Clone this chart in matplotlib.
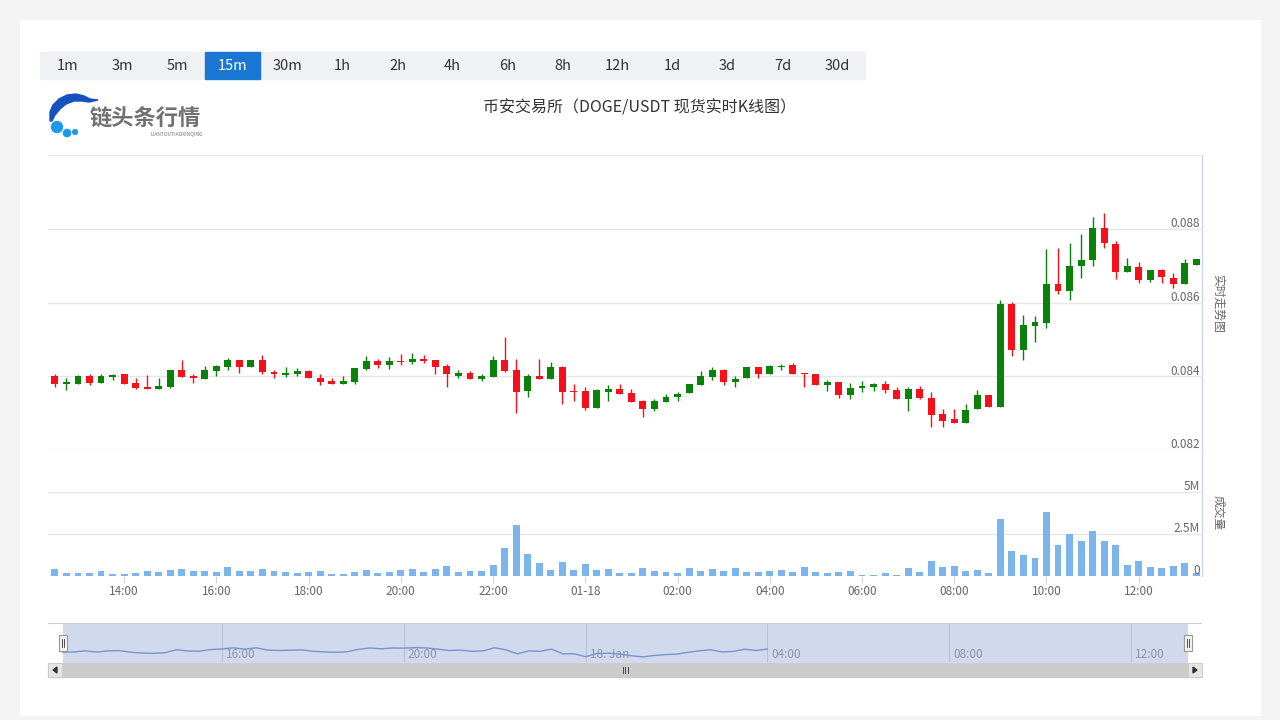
import matplotlib
matplotlib.use("Agg")
import matplotlib.pyplot as plt
from matplotlib.patches import Rectangle, Polygon, Circle
import numpy as np
import pandas as pd

plt.rcParams['font.family'] = ['Noto Sans CJK SC', 'DejaVu Sans']

W, H = 1280, 720

# 15m candles, DOGE/USDT
times = pd.date_range('2023-01-17 12:30', periods=100, freq='15min')

opens = [0.08400, 0.08380, 0.08380, 0.08400, 0.08382, 0.08397, 0.08405, 0.08381, 0.08370, 0.08365,
         0.08371, 0.08416, 0.08402, 0.08392, 0.08414, 0.08425, 0.08444, 0.08425, 0.08444, 0.08412,
         0.08404, 0.08407, 0.08414, 0.08394, 0.08387, 0.08380, 0.08384, 0.08420, 0.08441, 0.08430,
         0.08442, 0.08439, 0.08447, 0.08444, 0.08427, 0.08402, 0.08409, 0.08392, 0.08398, 0.08445,
         0.08418, 0.08360, 0.08400, 0.08393, 0.08425, 0.08360, 0.08359, 0.08315, 0.08356, 0.08366,
         0.08354, 0.08332, 0.08310, 0.08330, 0.08343, 0.08355, 0.08376, 0.08398, 0.08416, 0.08384,
         0.08394, 0.08424, 0.08405, 0.08424, 0.08430, 0.08409, 0.08407, 0.08377, 0.08384, 0.08348,
         0.08368, 0.08371, 0.08380, 0.08364, 0.08337, 0.08366, 0.08342, 0.08298, 0.08284, 0.08274,
         0.08310, 0.08348, 0.08316, 0.08597, 0.08471, 0.08537, 0.08545, 0.08651, 0.08630, 0.08699,
         0.08714, 0.08803, 0.08760, 0.08682, 0.08697, 0.08660, 0.08687, 0.08667, 0.08650, 0.08701]
highs = [0.08405, 0.08394, 0.08403, 0.08407, 0.08407, 0.08407, 0.08405, 0.08396, 0.08403, 0.08396,
         0.08418, 0.08444, 0.08407, 0.08427, 0.08430, 0.08450, 0.08445, 0.08444, 0.08458, 0.08418,
         0.08425, 0.08423, 0.08418, 0.08405, 0.08396, 0.08400, 0.08422, 0.08455, 0.08446, 0.08451,
         0.08460, 0.08462, 0.08457, 0.08444, 0.08433, 0.08416, 0.08414, 0.08405, 0.08455, 0.08506,
         0.08446, 0.08407, 0.08448, 0.08440, 0.08427, 0.08378, 0.08371, 0.08366, 0.08375, 0.08380,
         0.08366, 0.08336, 0.08339, 0.08352, 0.08357, 0.08380, 0.08414, 0.08424, 0.08421, 0.08400,
         0.08424, 0.08425, 0.08430, 0.08433, 0.08436, 0.08409, 0.08407, 0.08391, 0.08384, 0.08382,
         0.08387, 0.08382, 0.08386, 0.08371, 0.08371, 0.08373, 0.08356, 0.08312, 0.08311, 0.08326,
         0.08364, 0.08348, 0.08606, 0.08602, 0.08567, 0.08564, 0.08746, 0.08749, 0.08761, 0.08785,
         0.08833, 0.08844, 0.08767, 0.08721, 0.08710, 0.08689, 0.08692, 0.08680, 0.08717, 0.08719]
lows = [0.08371, 0.08362, 0.08378, 0.08375, 0.08382, 0.08391, 0.08380, 0.08365, 0.08365, 0.08365,
        0.08369, 0.08398, 0.08382, 0.08392, 0.08400, 0.08416, 0.08409, 0.08425, 0.08405, 0.08396,
        0.08398, 0.08402, 0.08394, 0.08377, 0.08380, 0.08380, 0.08380, 0.08418, 0.08423, 0.08421,
        0.08430, 0.08432, 0.08436, 0.08407, 0.08371, 0.08396, 0.08393, 0.08387, 0.08398, 0.08412,
        0.08300, 0.08345, 0.08393, 0.08393, 0.08325, 0.08334, 0.08309, 0.08315, 0.08334, 0.08353,
        0.08330, 0.08289, 0.08307, 0.08330, 0.08334, 0.08355, 0.08376, 0.08391, 0.08377, 0.08371,
        0.08394, 0.08396, 0.08405, 0.08418, 0.08405, 0.08371, 0.08377, 0.08360, 0.08341, 0.08339,
        0.08357, 0.08360, 0.08354, 0.08337, 0.08307, 0.08337, 0.08263, 0.08263, 0.08274, 0.08273,
        0.08310, 0.08316, 0.08316, 0.08455, 0.08444, 0.08494, 0.08532, 0.08624, 0.08606, 0.08666,
        0.08699, 0.08747, 0.08665, 0.08682, 0.08653, 0.08655, 0.08653, 0.08639, 0.08650, 0.08701]
closes = [0.08380, 0.08384, 0.08400, 0.08382, 0.08400, 0.08403, 0.08380, 0.08368, 0.08365, 0.08373,
          0.08416, 0.08398, 0.08395, 0.08418, 0.08427, 0.08444, 0.08425, 0.08444, 0.08412, 0.08405,
          0.08409, 0.08414, 0.08394, 0.08384, 0.08380, 0.08386, 0.08422, 0.08441, 0.08430, 0.08441,
          0.08439, 0.08446, 0.08442, 0.08425, 0.08405, 0.08410, 0.08393, 0.08400, 0.08445, 0.08414,
          0.08357, 0.08400, 0.08393, 0.08424, 0.08357, 0.08357, 0.08315, 0.08362, 0.08366, 0.08353,
          0.08330, 0.08312, 0.08332, 0.08345, 0.08353, 0.08378, 0.08400, 0.08416, 0.08384, 0.08392,
          0.08424, 0.08405, 0.08427, 0.08427, 0.08407, 0.08405, 0.08377, 0.08384, 0.08350, 0.08369,
          0.08374, 0.08380, 0.08364, 0.08337, 0.08366, 0.08340, 0.08296, 0.08279, 0.08274, 0.08308,
          0.08348, 0.08316, 0.08597, 0.08471, 0.08539, 0.08547, 0.08651, 0.08630, 0.08700, 0.08714,
          0.08803, 0.08762, 0.08682, 0.08700, 0.08660, 0.08687, 0.08668, 0.08650, 0.08706, 0.08719]
# volume in millions
volumes = [0.42, 0.20, 0.18, 0.18, 0.30, 0.12, 0.14, 0.18, 0.30, 0.26,
           0.38, 0.44, 0.30, 0.30, 0.26, 0.56, 0.30, 0.30, 0.40, 0.30,
           0.22, 0.18, 0.26, 0.30, 0.14, 0.10, 0.26, 0.38, 0.20, 0.26,
           0.38, 0.44, 0.26, 0.44, 0.58, 0.26, 0.32, 0.32, 0.65, 1.69,
           3.04, 1.29, 0.77, 0.38, 0.81, 0.38, 0.73, 0.38, 0.40, 0.20,
           0.16, 0.48, 0.28, 0.24, 0.16, 0.48, 0.32, 0.40, 0.28, 0.48,
           0.24, 0.24, 0.28, 0.36, 0.24, 0.54, 0.24, 0.20, 0.24, 0.28,
           0.08, 0.08, 0.18, 0.08, 0.48, 0.24, 0.87, 0.54, 0.62, 0.28,
           0.36, 0.16, 3.39, 1.47, 1.23, 1.07, 3.81, 1.87, 2.50, 2.06,
           2.70, 2.10, 1.87, 0.67, 0.87, 0.54, 0.48, 0.58, 0.79, 0.20]

periods = ['1m', '3m', '5m', '15m', '30m', '1h', '2h', '4h', '6h', '8h', '12h', '1d', '3d', '7d', '30d']
selected = '15m'
price_ticks = [0.082, 0.084, 0.086, 0.088]
vol_ticks = [0, 2.5, 5]
vol_labels = ['0', '2.5M', '5M']
nav_labels = ['16:00', '20:00', '18. Jan', '04:00', '08:00', '12:00']
nav_line_len = 63  # navigator line stops at 04:00

UP = '#0a820a'
DOWN = '#f5101a'
GRID = '#e6e6e6'
AXIS = '#ccd6eb'
TXT = '#666666'


def box(x0, y0, x1, y1):
    return [x0 / W, 1 - y1 / H, (x1 - x0) / W, (y1 - y0) / H]


fig = plt.figure(figsize=(W / 100, H / 100), dpi=100)
fig.patch.set_facecolor('#f3f3f3')

# pixel-space background layer
bg = fig.add_axes([0, 0, 1, 1], zorder=0)
bg.set_xlim(0, W)
bg.set_ylim(H, 0)
bg.axis('off')
bg.add_patch(Rectangle((20, 20), 1240, 695, color='white'))

# period buttons
bg.add_patch(Rectangle((40, 52), 825, 27, color='#f0f1f3'))
for k, p in enumerate(periods):
    cx = 40 + 55 * k + 27.5
    if p == selected:
        bg.add_patch(Rectangle((40 + 55 * k, 52), 55, 27, color='#1976d2'))
        col = 'white'
    else:
        col = '#333333'
    bg.text(cx, 66, p, ha='center', va='center', fontsize=10.5, color=col)

# logo
swoosh = [(50, 121), (50, 112), (53, 105), (59, 99), (67, 95), (76, 94), (84, 96),
          (90, 99), (98, 100), (89, 102), (82, 101), (74, 101), (66, 104),
          (60, 109), (55, 115), (52, 121)]
bg.add_patch(Polygon(swoosh, closed=True, color='#1552be'))
bg.add_patch(Circle((57, 127), 5.5, color='#1e98ea'))
bg.add_patch(Circle((67, 133), 3.6, color='#1e98ea'))
bg.add_patch(Circle((75, 132), 2.4, color='#1e98ea'))
bg.text(90, 119, '链头条行情', ha='left', va='center', fontsize=16, color='#707070',
        fontweight='bold')
bg.text(203, 134, 'LIANTOUTIAOXINQING', ha='right', va='center', fontsize=3.6,
        color='#777777', style='italic')

fig.text(640 / W, 1 - 108 / H, '币安交易所（DOGE/USDT 现货实时K线图）', ha='center',
         va='center', fontsize=11.5, color='#333333')

n = len(closes)
x = np.arange(n)
xlim = (-0.6, 99.4)

# price panel
ax = fig.add_axes(box(48, 155, 1201, 450), zorder=1)
for s in ax.spines.values():
    s.set_visible(False)
ax.set_xlim(*xlim)
ax.set_ylim(0.082, 0.090)
ax.set_xticks([])
ax.set_yticks(price_ticks + [0.090])
ax.tick_params(axis='y', left=False, labelleft=False)
ax.yaxis.grid(True, color=GRID, lw=1)
ax.set_axisbelow(True)
o = np.array(opens)
c = np.array(closes)
colors = [UP if cc >= oo else DOWN for oo, cc in zip(o, c)]
ax.vlines(x, lows, highs, colors=colors, lw=1, zorder=2)
body = np.maximum(np.abs(c - o), 0.00003)
ax.bar(x, body, bottom=np.minimum(o, c), width=0.6, color=colors, zorder=3)
for v in price_ticks:
    ax.annotate(f'{v:.3f}', xy=(1, v), xycoords=('axes fraction', 'data'), xytext=(-1, -1),
                textcoords='offset points', ha='right', va='bottom', fontsize=8.5, color=TXT)

# volume panel
av = fig.add_axes(box(48, 492, 1201, 576), zorder=1)
for s in av.spines.values():
    s.set_visible(False)
av.set_xlim(*xlim)
av.set_ylim(0, 5)
av.set_yticks(vol_ticks)
av.tick_params(axis='y', left=False, labelleft=False)
av.yaxis.grid(True, color=GRID, lw=1)
av.set_axisbelow(True)
av.bar(x, volumes, width=0.6, color='#7cb5ec', zorder=3)
for v, lab in zip(vol_ticks, vol_labels):
    av.annotate(lab, xy=(1, v), xycoords=('axes fraction', 'data'), xytext=(-1, -1),
                textcoords='offset points', ha='right', va='bottom', fontsize=8.5, color=TXT)
tick_idx = [i for i, t in enumerate(times) if t.minute == 0 and t.hour % 2 == 0]
tick_lab = [times[i].strftime('%m-%d') if times[i].hour == 0 else times[i].strftime('%H:%M')
            for i in tick_idx]
av.set_xticks(tick_idx)
av.set_xticklabels(tick_lab)
av.tick_params(axis='x', length=5, color=AXIS, pad=1.5, labelsize=8.5, labelcolor=TXT)

# right axis line and titles
bg.plot([1201.5, 1201.5], [155, 576], color=AXIS, lw=1)
bg.text(1218, 303, '实时走势图', rotation=270, ha='center', va='center', fontsize=8.5, color=TXT)
bg.text(1218, 513, '成交量', rotation=270, ha='center', va='center', fontsize=8.5, color=TXT)

# navigator
an = fig.add_axes(box(48, 623, 1201, 663), zorder=1)
for s in an.spines.values():
    s.set_visible(False)
an.spines['top'].set_visible(True)
an.spines['top'].set_color('#cccccc')
an.set_xlim(-1.3, 100.14)
an.set_ylim(min(closes) - 0.0005, max(closes))
an.set_xticks([])
an.set_yticks([])
an.axvspan(0, n - 1, color='#d1daed', lw=0, zorder=0)
nav_idx = [i for i, t in enumerate(times) if t.minute == 0 and t.hour % 4 == 0]
for i, lab in zip(nav_idx, nav_labels):
    an.axvline(i, color='#b9c3d8', lw=0.8, zorder=1)
    an.text(i + 0.35, 0.2, lab, transform=an.get_xaxis_transform(), ha='left', va='center',
            fontsize=8.5, color='#8d96a8', zorder=2)
an.plot(x[:nav_line_len], closes[:nav_line_len], color='#7893cc', lw=1, zorder=3)

# navigator handles and scrollbar (pixel layer on top)
top = fig.add_axes([0, 0, 1, 1], zorder=2)
top.set_xlim(0, W)
top.set_ylim(H, 0)
top.axis('off')
top.patch.set_alpha(0)
for hx in (62.5, 1188):
    top.add_patch(Rectangle((hx - 4, 635), 8, 16, facecolor='#f2f2f2', edgecolor='#999999', lw=0.8))
    top.plot([hx - 1, hx - 1], [639, 647], color='#333333', lw=0.6)
    top.plot([hx + 1, hx + 1], [639, 647], color='#333333', lw=0.6)
top.add_patch(Rectangle((48, 663), 1153, 14, color='#f2f2f2'))
top.add_patch(Rectangle((62.5, 663), 1125.5, 14, color='#cccccc'))
for bx in (48, 1188):
    top.add_patch(Rectangle((bx, 663), 13.5, 14, facecolor='#e6e6e6', edgecolor='#cccccc', lw=0.8))
top.add_patch(Polygon([(57, 667), (57, 673), (53, 670)], closed=True, color='#333333'))
top.add_patch(Polygon([(1193, 667), (1193, 673), (1197, 670)], closed=True, color='#333333'))
for gx in (622.5, 625, 627.5):
    top.plot([gx, gx], [667, 673], color='#333333', lw=0.6)

fig.savefig('out.png', dpi=100, facecolor=fig.get_facecolor())
